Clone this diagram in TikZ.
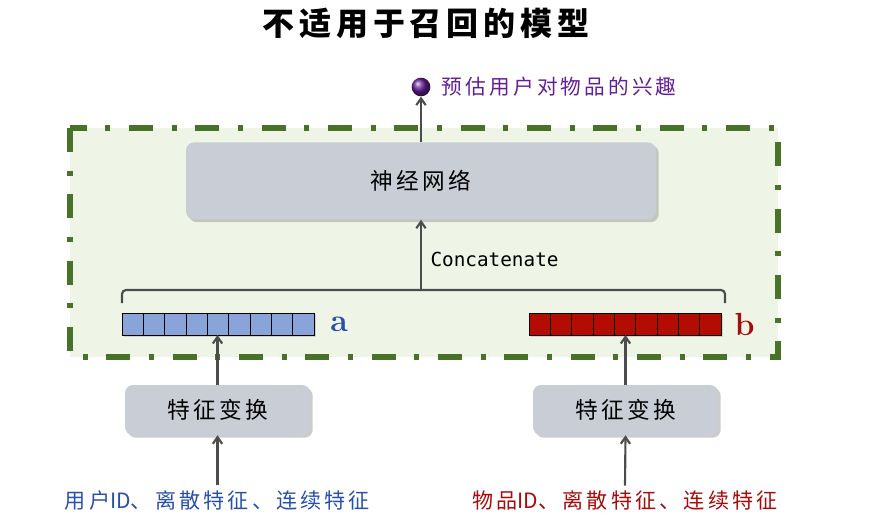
\documentclass[tikz,border=0pt]{standalone}
\usepackage{fontspec}
\usetikzlibrary{arrows.meta, positioning, shadows, calc}
\newfontfamily\cjk[LetterSpace=15]{Noto Sans CJK SC}
\newfontfamily\cjktight{Noto Sans CJK SC}
\newfontfamily\monofont{DejaVu Sans Mono}
\definecolor{boxgray}{RGB}{200,205,214}
\definecolor{framegreen}{RGB}{72,114,40}
\definecolor{bggreen}{RGB}{238,245,230}
\definecolor{cellblue}{RGB}{136,164,216}
\definecolor{cellred}{RGB}{180,12,0}
\definecolor{labelblue}{RGB}{40,80,170}
\definecolor{labelred}{RGB}{165,12,12}
\definecolor{ballpurple}{RGB}{100,30,150}
\tikzset{
    module/.style={
        rectangle, rounded corners=6pt,
        fill=boxgray, draw=none,
        drop shadow={shadow xshift=2pt, shadow yshift=-2pt, fill=black!40},
        font=\cjk\fontsize{17}{20}\selectfont, align=center
    },
    cell/.style={
        rectangle, draw=black, line width=0.6pt,
        minimum width=16pt, minimum height=16.5pt,
        inner sep=0pt, outer sep=0pt,
        drop shadow={shadow xshift=1.5pt, shadow yshift=-1.5pt, fill=black!30}
    },
    frame/.style={
        draw=framegreen, fill=bggreen, line width=3.8pt,
        dash pattern=on 18pt off 14pt on 3.75pt off 14pt
    },
    arrow/.style={-{Straight Barb[length=5pt, width=7pt]}, line width=1.6pt, draw=black!70},
    bracket/.style={line width=1.6pt, draw=black!70, rounded corners=3pt},
    veclabel/.style={font=\bfseries\fontsize{24}{24}\selectfont, inner sep=0pt},
    inlabel/.style={font=\cjk\fontsize{15.8}{18}\selectfont}
}

\begin{document}
\begin{tikzpicture}[x=0.75pt, y=-0.75pt]
    \useasboundingbox (0,0) rectangle (873,516);

    % dashed region
    \draw[frame] (70,128) rectangle (778,357);

    \node[font=\cjk\bfseries\fontsize{24}{28}\selectfont] (title) at (426,23) {不适用于召回的模型};

    % network and output
    \node[module, minimum width=352.5pt, minimum height=57.75pt] (net) at (421,181) {神经网络};
    \node[circle, inner sep=0pt, minimum size=14pt, ball color=ballpurple] (ball) at (421,87) {};
    \node[right=5pt of ball, text=ballpurple, font=\cjk\fontsize{15.5}{18}\selectfont] (score) {预估用户对物品的兴趣};

    % embedding vectors
    \node[cell, fill=cellblue] (a1) at (132.7,324) {};
    \node[cell, fill=cellred] (b1) at (539.8,324) {};
    \foreach \i [evaluate=\i as \j using int(\i-1)] in {2,...,9} {
        \node[cell, fill=cellblue, right=0pt of a\j] (a\i) {};
        \node[cell, fill=cellred, right=0pt of b\j] (b\i) {};
    }
    \node[veclabel, text=labelblue, right=12pt of a9] (la) {a};
    \node[veclabel, text=labelred, right=10pt of b9] (lb) {b};

    % concatenation
    \coordinate (bl) at (122,303);
    \coordinate (br) at (725,303);
    \coordinate (cat) at (421,290);
    \draw[bracket] (bl) -- ++(0,-13) -| (br);
    \draw[arrow] (cat) -- (net.south)
        node[midway, right=3pt, yshift=-3.5pt, font=\monofont\fontsize{14.5}{16}\selectfont] (catlabel) {Concatenate};
    \draw[arrow] (net.north) -- (ball.south);

    % feature towers
    \node[module, minimum width=138.75pt, minimum height=37.5pt] (fu) at (217.5,410) {特征变换};
    \node[module, minimum width=138.75pt, minimum height=37.5pt] (fi) at (625.5,410) {特征变换};
    \node[inlabel, text=labelblue] (uin) at (217.5,500) {用户{\cjktight ID}、离散特征、连续特征};
    \node[inlabel, text=labelred] (iin) at (625,500) {物品{\cjktight ID}、离散特征、连续特征};

    \draw[arrow] (uin.north) -- (fu.south);
    \draw[arrow] (iin.north) -- (fi.south);
    \draw[arrow] (fu.north) -- (fu.north |- a5.south);
    \draw[arrow] (fi.north) -- (fi.north |- b5.south);
\end{tikzpicture}
\end{document}
